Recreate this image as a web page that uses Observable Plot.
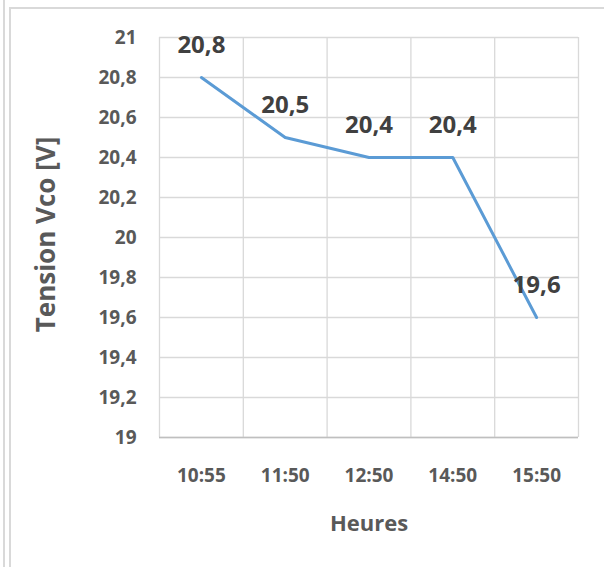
<!DOCTYPE html>
<html>
<head>
<meta charset="utf-8">
<script src="https://cdn.jsdelivr.net/npm/d3@7"></script>
<script src="https://cdn.jsdelivr.net/npm/@observablehq/plot@0.6"></script>
<style>
  html, body { margin: 0; padding: 0; background: #fff; }
  #wrap { position: relative; width: 604px; height: 567px; overflow: hidden; }
  .edge1 { position: absolute; left: 3px; top: 0; width: 0; height: 567px; border-left: 2px solid #d9d9d9; }
  .edge2 { position: absolute; left: 9px; top: 7px; width: 600px; height: 600px; border-left: 2px solid #d9d9d9; border-top: 2px solid #d9d9d9; }
  #chart { position: absolute; left: 0; top: 0; }
</style>
</head>
<body>
<div id="wrap">
  <div class="edge1"></div>
  <div class="edge2"></div>
  <div id="chart"></div>
</div>
<script>
// Open-circuit voltage readings through the day
const heures = ["10:55", "11:50", "12:50", "14:50", "15:50"];
const tension = [20.8, 20.5, 20.4, 20.4, 19.6];
const yTicks = [19, 19.2, 19.4, 19.6, 19.8, 20, 20.2, 20.4, 20.6, 20.8, 21];

const data = heures.map((h, i) => ({i, h, v: tension[i]}));
const bounds = d3.range(heures.length + 1).map(i => i - 0.5);
const fmt = v => String(+v.toFixed(1)).replace(".", ",");

const font = "'Open Sans', 'Noto Sans', sans-serif";

const chart = Plot.plot({
  width: 604,
  height: 567,
  marginLeft: 159,
  marginRight: 26,
  marginTop: 37,
  marginBottom: 130,
  style: {fontFamily: font, background: "transparent"},
  x: {domain: [-0.5, heures.length - 0.5], axis: null},
  y: {domain: [19, 21], axis: null},
  marks: [
    Plot.ruleY(yTicks, {stroke: "#d9d9d9", strokeWidth: 1.3}),
    Plot.ruleX(bounds, {stroke: "#d9d9d9", strokeWidth: 1.3}),
    Plot.ruleY([19], {stroke: "#bfbfbf", strokeWidth: 1.5}),
    Plot.axisY(yTicks, {
      tickSize: 0, tickPadding: 23, tickFormat: fmt,
      fontSize: 19, fontWeight: "bold", fill: "#595959", label: null
    }),
    Plot.axisX(d3.range(heures.length), {
      tickSize: 0, tickPadding: 31, tickFormat: i => heures[i],
      fontSize: 19, fontWeight: "bold", fill: "#595959", label: null
    }),
    Plot.line(data, {x: "i", y: "v", stroke: "#5b9bd5", strokeWidth: 3}),
    Plot.text(data, {
      x: "i", y: "v", text: d => fmt(d.v), dy: -25, lineAnchor: "bottom",
      fontSize: 24, fontWeight: "bold", fill: "#404040"
    }),
    Plot.text(["Heures"], {
      frameAnchor: "bottom", dy: 93, fontSize: 22, fontWeight: "bold", fill: "#595959"
    }),
    Plot.text(["Tension Vco [V]"], {
      frameAnchor: "left", textAnchor: "middle", dx: -113, dy: -3, rotate: -90,
      fontSize: 26, fontWeight: "bold", fill: "#595959"
    })
  ]
});

document.getElementById("chart").appendChild(chart);
</script>
</body>
</html>
